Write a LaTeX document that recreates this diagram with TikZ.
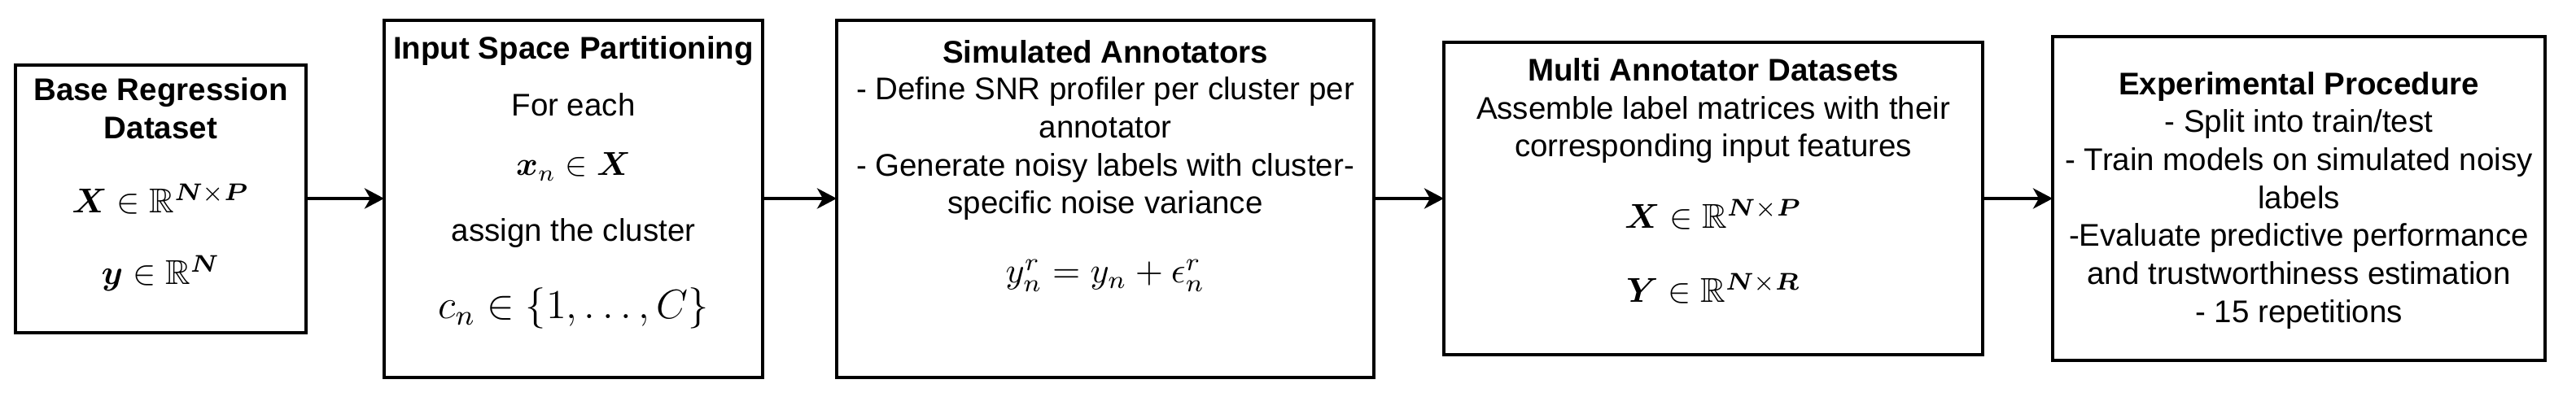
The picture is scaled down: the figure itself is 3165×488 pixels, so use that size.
\RequirePackage{fix-cm}
\documentclass[tikz,border=0pt]{standalone}
\usepackage{amsmath,amssymb,bm}
\usepackage{fontspec}
\newfontfamily\arialf{Liberation Sans}
\usetikzlibrary{arrows.meta}
\tikzset{
  box/.style={draw=black, line width=1pt, rectangle, inner sep=0pt, outer sep=0pt},
  txt/.style={anchor=base, inner sep=0pt, font=\arialf\fontsize{9.625}{11.5}\selectfont},
  hd/.style={anchor=base, inner sep=0pt, font=\arialf\bfseries\fontsize{9.625}{11.5}\selectfont},
  mth/.style={anchor=base, inner sep=0pt, font=\fontsize{10.6}{13}\selectfont},
  mthy/.style={anchor=base, inner sep=0pt, font=\fontsize{11}{13}\selectfont},
  mths/.style={anchor=base, inner sep=0pt, font=\fontsize{10.2}{12}\selectfont},
  mthl/.style={anchor=base, inner sep=0pt, font=\fontsize{12.6}{15}\selectfont},
  arr/.style={line width=1pt, -{Stealth[length=6pt,width=6.25pt,inset=1.75pt]}}
}
\begin{document}
\begin{tikzpicture}[x=0.25pt,y=-0.25pt]
\useasboundingbox[fill=white] (0,0) rectangle (3165,488);
% boxes
\node[box, minimum width=89.25pt, minimum height=82.25pt] (b1) at (197.5,244.5) {};
\node[box, minimum width=116.25pt, minimum height=109.75pt] (b2) at (704.5,244.5) {};
\node[box, minimum width=165pt, minimum height=109.75pt] (b3) at (1358,244.5) {};
\node[box, minimum width=165.5pt, minimum height=96pt] (b4) at (2105,244) {};
\node[box, minimum width=151.25pt, minimum height=99.5pt] (b5) at (2824.5,244) {};
% box 1
\node[hd] (t11) at (197.5,124) {Base Regression};
\node[hd] (t12) at (197.5,171) {Dataset};
\node[mth] (t13) at (197.5,262) {$\bm{X}\in\mathbb{R}^{\bm{N}\times\bm{P}}$};
\node[mth] (t14) at (197.5,350) {$\bm{y}\in\mathbb{R}^{\bm{N}}$};
% box 2
\node[hd] (t21) at (704.5,73) {Input Space Partitioning};
\node[txt] (t22) at (704.5,143) {For each};
\node[mths] (t23) at (704.5,216) {$\bm{x}_n\in\bm{X}$};
\node[txt] (t24) at (704.5,297) {assign the cluster};
\node[mthl] (t25) at (704.5,392) {$c_n\in\{1,\ldots,C\}$};
% box 3
\node[hd] (t31) at (1358,78) {Simulated Annotators};
\node[txt] (t32) at (1358,123) {- Define SNR profiler per cluster per};
\node[txt] (t33) at (1358,170) {annotator};
\node[txt] (t34) at (1358,217) {- Generate noisy labels with cluster-};
\node[txt] (t35) at (1358,263) {specific noise variance};
\node[mthy] (t36) at (1358,348) {$y_n^r=y_n+\epsilon_n^r$};
% box 4
\node[hd] (t41) at (2105,100) {Multi Annotator Datasets};
\node[txt] (t42) at (2105,147) {Assemble label matrices with their};
\node[txt] (t43) at (2105,193) {corresponding input features};
\node[mth] (t44) at (2105,281) {$\bm{X}\in\mathbb{R}^{\bm{N}\times\bm{P}}$};
\node[mth] (t45) at (2105,372) {$\bm{Y}\in\mathbb{R}^{\bm{N}\times\bm{R}}$};
% box 5
\node[hd] (t51) at (2824.5,117) {Experimental Procedure};
\node[txt] (t52) at (2824.5,163) {- Split into train/test};
\node[txt] (t53) at (2824.5,210) {- Train models on simulated noisy};
\node[txt] (t54) at (2824.5,257) {labels};
\node[txt] (t55) at (2824.5,303) {-Evaluate predictive performance};
\node[txt] (t56) at (2824.5,350) {and trustworthiness estimation};
\node[txt] (t57) at (2824.5,397) {- 15 repetitions};
% arrows
\draw[arr] (b1.east |- 0,244) -- (b2.west |- 0,244);
\draw[arr] (b2.east |- 0,244) -- (b3.west |- 0,244);
\draw[arr] (b3.east |- 0,244) -- (b4.west |- 0,244);
\draw[arr] (b4.east |- 0,244) -- (b5.west |- 0,244);
\end{tikzpicture}
\end{document}
